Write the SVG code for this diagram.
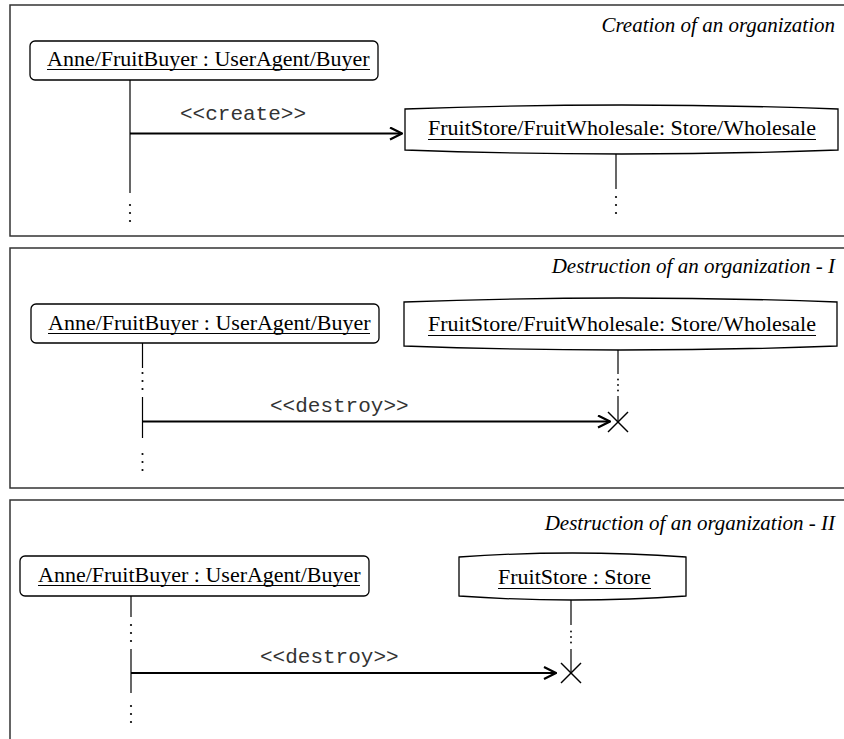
<svg xmlns="http://www.w3.org/2000/svg" width="844" height="739" viewBox="0 0 844 739">
<defs>
<style>
.frame{fill:none;stroke:#333;stroke-width:1.5}
.box{fill:#fff;stroke:#000;stroke-width:1.3}
.lbl{font-family:"Liberation Serif","Times New Roman",serif;font-size:22px;fill:#000}
.ttl{font-family:"Liberation Serif","Times New Roman",serif;font-size:21px;font-style:italic;fill:#000}
.ul{stroke:#000;stroke-width:1}
.life{stroke:#000;stroke-width:1.2;fill:none}
.dot{fill:#000}
.msg{stroke:#000;stroke-width:2.2;fill:none}
.msgl{font-family:"Liberation Mono","Courier New",monospace;font-size:21px;fill:#333}
.x{stroke:#000;stroke-width:1.5}
</style>
<marker id="open" viewBox="0 0 14 14" refX="13" refY="7" markerWidth="14" markerHeight="14" markerUnits="userSpaceOnUse" orient="auto">
<path d="M1,1 L13,7 L1,13" fill="none" stroke="#000" stroke-width="2.2"/>
</marker>
</defs>

<g id="frames">
<rect class="frame" x="10" y="5" width="850" height="231"/>
<rect class="frame" x="10" y="248" width="850" height="240"/>
<rect class="frame" x="10" y="500" width="850" height="260"/>
<text class="ttl" x="835" y="32" text-anchor="end">Creation of an organization</text>
<text class="ttl" x="835" y="273" text-anchor="end">Destruction of an organization - I</text>
<text class="ttl" x="835" y="530" text-anchor="end">Destruction of an organization - II</text>
</g>

<!-- Panel 1 -->
<g id="buyer1">
<rect class="box" x="30" y="41" width="348" height="39" rx="5"/>
<text class="lbl" x="47" y="66">Anne/FruitBuyer : UserAgent/Buyer</text>
<line class="ul" x1="47" y1="69.5" x2="370" y2="69.5"/>
<line class="life" x1="130" y1="80" x2="130" y2="193"/>
<circle class="dot" cx="130" cy="205" r="1.1"/>
<circle class="dot" cx="130" cy="213" r="1.1"/>
<circle class="dot" cx="130" cy="221" r="1.1"/>
</g>
<g id="store1">
<path class="box" d="M405,109 Q621.5,101 838,109 L838,150 Q621.5,158 405,150 Z"/>
<text class="lbl" x="428" y="135">FruitStore/FruitWholesale: Store/Wholesale</text>
<line class="ul" x1="428" y1="139.5" x2="816" y2="139.5"/>
<line class="life" x1="616" y1="154" x2="616" y2="189"/>
<circle class="dot" cx="616" cy="197" r="1.1"/>
<circle class="dot" cx="616" cy="205" r="1.1"/>
<circle class="dot" cx="616" cy="213" r="1.1"/>
</g>

<!-- Panel 2 -->
<g id="buyer2">
<rect class="box" x="31" y="304" width="348" height="39" rx="5"/>
<text class="lbl" x="48" y="330">Anne/FruitBuyer : UserAgent/Buyer</text>
<line class="ul" x1="48" y1="333.5" x2="370" y2="333.5"/>
<line class="life" x1="142.5" y1="343" x2="142.5" y2="368"/>
<circle class="dot" cx="142.5" cy="373" r="1.1"/>
<circle class="dot" cx="142.5" cy="381" r="1.1"/>
<circle class="dot" cx="142.5" cy="389" r="1.1"/>
<line class="life" x1="142.5" y1="397" x2="142.5" y2="438"/>
<circle class="dot" cx="142.5" cy="454" r="1.1"/>
<circle class="dot" cx="142.5" cy="462" r="1.1"/>
<circle class="dot" cx="142.5" cy="470" r="1.1"/>
</g>
<g id="store2">
<path class="box" d="M404,302 Q620,294 837,302 L837,346 Q620,354 404,346 Z"/>
<text class="lbl" x="428" y="331">FruitStore/FruitWholesale: Store/Wholesale</text>
<line class="ul" x1="428" y1="335.5" x2="816" y2="335.5"/>
<line class="life" x1="618" y1="350" x2="618" y2="374"/>
<circle class="dot" cx="618" cy="379.5" r="0.9"/>
<circle class="dot" cx="618" cy="385" r="0.9"/>
<circle class="dot" cx="618" cy="390.5" r="0.9"/>
<line class="life" x1="618" y1="396" x2="618" y2="422"/>
<line class="x" x1="608" y1="412" x2="628" y2="432"/>
<line class="x" x1="628" y1="412" x2="608" y2="432"/>
</g>

<!-- Panel 3 -->
<g id="buyer3">
<rect class="box" x="20" y="556" width="349" height="40" rx="5"/>
<text class="lbl" x="38" y="582">Anne/FruitBuyer : UserAgent/Buyer</text>
<line class="ul" x1="38" y1="585.5" x2="360" y2="585.5"/>
<line class="life" x1="131" y1="596" x2="131" y2="617"/>
<circle class="dot" cx="131" cy="625" r="1.1"/>
<circle class="dot" cx="131" cy="633" r="1.1"/>
<circle class="dot" cx="131" cy="641" r="1.1"/>
<line class="life" x1="131" y1="649" x2="131" y2="693"/>
<circle class="dot" cx="131" cy="706" r="1.1"/>
<circle class="dot" cx="131" cy="714" r="1.1"/>
<circle class="dot" cx="131" cy="722" r="1.1"/>
</g>
<g id="store3">
<path class="box" d="M459,557 Q572.5,549 686,557 L686,596 Q572.5,604 459,596 Z"/>
<text class="lbl" x="498" y="584">FruitStore : Store</text>
<line class="ul" x1="498" y1="588.5" x2="651" y2="588.5"/>
<line class="life" x1="571" y1="600" x2="571" y2="625"/>
<circle class="dot" cx="571" cy="631.5" r="0.9"/>
<circle class="dot" cx="571" cy="637" r="0.9"/>
<circle class="dot" cx="571" cy="642.5" r="0.9"/>
<line class="life" x1="571" y1="649" x2="571" y2="673"/>
<line class="x" x1="561" y1="663" x2="581" y2="683"/>
<line class="x" x1="581" y1="663" x2="561" y2="683"/>
</g>

<g id="connectors">
<line class="msg" x1="130" y1="133.5" x2="402" y2="133.5" marker-end="url(#open)"/>
<text class="msgl" x="180" y="120">&lt;&lt;create&gt;&gt;</text>
<line class="msg" x1="142.5" y1="421.5" x2="610" y2="421.5" marker-end="url(#open)"/>
<text class="msgl" x="270" y="412">&lt;&lt;destroy&gt;&gt;</text>
<line class="msg" x1="131" y1="673" x2="556" y2="673" marker-end="url(#open)"/>
<text class="msgl" x="260" y="663">&lt;&lt;destroy&gt;&gt;</text>
</g>
</svg>
